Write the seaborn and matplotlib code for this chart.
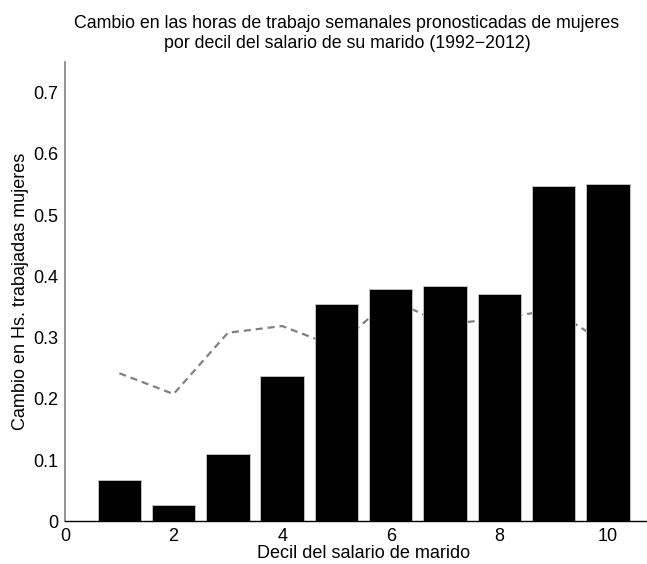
import matplotlib
matplotlib.use("Agg")
import matplotlib.pyplot as plt
import seaborn as sns
import pandas as pd

deciles = [1, 2, 3, 4, 5, 6, 7, 8, 9, 10]
bar_values = [0.068, 0.027, 0.110, 0.238, 0.355, 0.379, 0.384, 0.371, 0.547, 0.551]
line_values = [0.242, 0.208, 0.308, 0.319, 0.285, 0.363, 0.321, 0.332, 0.345, 0.288]
x_ticks = [0, 2, 4, 6, 8, 10]
y_ticks = [0, 0.1, 0.2, 0.3, 0.4, 0.5, 0.6, 0.7]
y_tick_labels = ["0", "0.1", "0.2", "0.3", "0.4", "0.5", "0.6", "0.7"]

title = "Cambio en las horas de trabajo semanales pronosticadas de mujeres\npor decil del salario de su marido (1992\u22122012)"
xlabel = "Decil del salario de marido"
ylabel = "Cambio en Hs. trabajadas mujeres"

sns.set_style("white")
plt.rcParams["font.family"] = ["Liberation Sans", "DejaVu Sans"]
plt.rcParams["text.color"] = "black"
plt.rcParams["axes.labelcolor"] = "black"

df = pd.DataFrame({"decil": deciles, "barra": bar_values, "linea": line_values})

fig = plt.figure(figsize=(6.47, 5.64), dpi=100)
ax = fig.add_axes([0.1005, 0.0754, 0.923, 0.8147])

sns.lineplot(data=df, x="decil", y="linea", ax=ax, color="#808080",
             linestyle=(0, (3.2, 2.2)), linewidth=1.6, zorder=1)
sns.barplot(data=df, x="decil", y="barra", ax=ax, native_scale=True,
            color="black", width=0.8, edgecolor="#c8c8c8", linewidth=0.6,
            saturation=1, zorder=2)

ax.set_xlim(0, 11)
ax.set_ylim(0, 0.75)
ax.set_xticks(x_ticks)
ax.set_xticklabels([str(t) for t in x_ticks])
ax.set_yticks(y_ticks)
ax.set_yticklabels(y_tick_labels)
ax.tick_params(direction="in", length=4, width=0.8, colors="black",
               labelsize=13)
ax.tick_params(axis="y", pad=5)
ax.tick_params(axis="x", pad=5)

for s in ["top", "right"]:
    ax.spines[s].set_visible(False)
ax.spines["left"].set_color("#808080")
ax.spines["left"].set_linewidth(1.2)
ax.spines["bottom"].set_color("black")
ax.spines["bottom"].set_linewidth(1.0)

ax.set_xlabel(xlabel, fontsize=13, labelpad=0)
ax.set_ylabel(ylabel, fontsize=13, labelpad=3)
ax.set_title(title, fontsize=12.8, pad=10, linespacing=1.2, x=0.472)

fig.savefig("out.png", dpi=100)
